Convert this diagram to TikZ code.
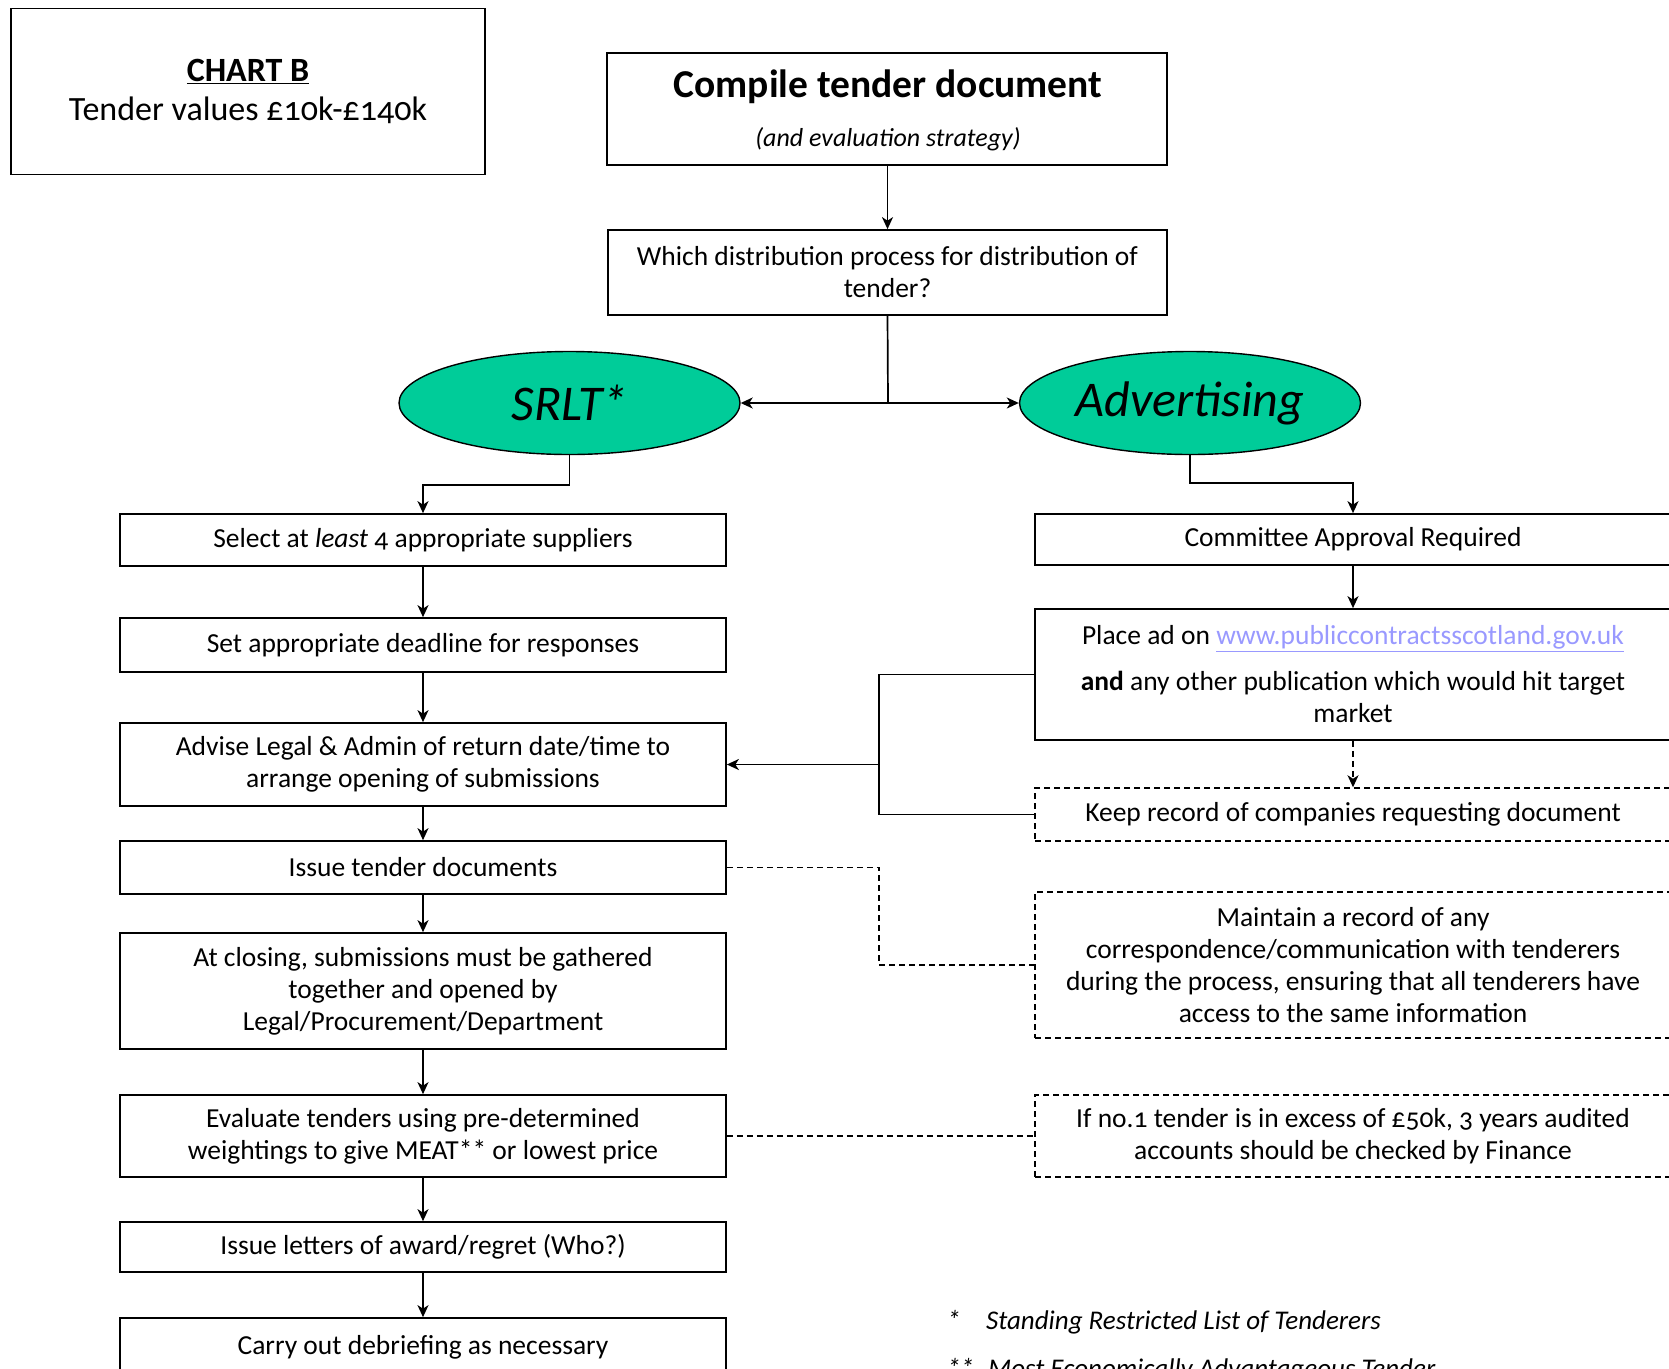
\documentclass[tikz,border=0pt]{standalone}
\usepackage{fontspec}
\setmainfont{Carlito}[Numbers=OldStyle]
\usetikzlibrary{arrows.meta,shapes.geometric}
\definecolor{tealfill}{HTML}{00CC99}
\definecolor{linkc}{HTML}{9999FF}
\begin{document}
\begin{tikzpicture}[x=1pt,y=-1pt,
  box/.style={draw, line width=1.7pt, inner sep=0pt, align=center, font=\fontsize{27.5}{32}\selectfont},
  dbox/.style={box, line width=1.5pt, dash pattern=on 6pt off 4pt},
  conn/.style={line width=1.7pt},
  dconn/.style={conn, line width=1.5pt, dash pattern=on 6pt off 4pt},
  arr/.style={conn, -{Stealth[length=12pt,width=11pt,inset=3.5pt]}},
  oval/.style={ellipse, draw, line width=1.4pt, fill=tealfill, minimum width=341pt, minimum height=103pt, inner sep=0pt, font=\fontsize{50}{60}\selectfont\itshape},
  lbox/.style={box, minimum width=606pt},
  rbox/.style={box, minimum width=636pt},
  rdbox/.style={dbox, minimum width=636pt},
  foot/.style={anchor=base west, inner sep=0pt, font=\fontsize{27}{32}\selectfont\itshape}]
\useasboundingbox (0,0) rectangle (1669,1368);
\begin{scope}
\clip (0,0) rectangle (1669,1368);
% header
\node[box, minimum width=474pt, minimum height=166pt, font=\fontsize{34}{39}\selectfont] (chart) at (248,91.5) {\textbf{\underline{CHART B}}\\Tender values £10k-£140k};
\node[box, minimum width=560pt, minimum height=112pt] (compile) at (887,109) {};
\node[inner sep=0pt, font=\fontsize{39.5}{44}\selectfont\bfseries] (compileA) at (888,87) {Compile tender document};
\node[inner sep=0pt, font=\fontsize{26}{30}\selectfont\itshape] (compileB) at (888,139) {(and evaluation strategy)};
\node[box, minimum width=559pt, minimum height=85pt] (which) at (887.5,272.5) {Which distribution process for distribution of\\tender?};
% ovals
\node[oval] (srlt) at (569.5,403) {SRLT*};
\node[oval] (adv) at (1190,403) {Advertising};
\coordinate (j) at (888,403);
% left column
\node[lbox, minimum height=52pt] (select) at (423,540) {Select at \textit{least} 4 appropriate suppliers};
\node[lbox, minimum height=54pt] (set) at (423,645) {Set appropriate deadline for responses};
\node[lbox, minimum height=83pt] (advise) at (423,764.5) {Advise Legal \& Admin of return date/time to\\arrange opening of submissions};
\node[lbox, minimum height=53pt] (issue) at (423,867.5) {Issue tender documents};
\node[lbox, minimum height=116pt] (closing) at (423,991) {At closing, submissions must be gathered\\together and opened by\\Legal/Procurement/Department};
\node[lbox, minimum height=82pt] (eval) at (423,1136) {Evaluate tenders using pre-determined\\weightings to give MEAT** or lowest price};
\node[lbox, minimum height=50pt] (letters) at (423,1247) {Issue letters of award/regret (Who?)};
\node[lbox, minimum height=58pt] (carry) at (423,1347) {Carry out debriefing as necessary};
% right column
\node[rbox, minimum height=51pt] (committee) at (1353,539.5) {Committee Approval Required};
\node[rbox, minimum height=131pt] (placead) at (1353,674.5) {Place ad on \textcolor{linkc}{\underline{www.publiccontractsscotland.gov.uk}}\\[14pt]\textbf{and} any other publication which would hit target\\market};
\node[rdbox, minimum height=53pt] (keep) at (1353,814.5) {Keep record of companies requesting document};
\node[rdbox, minimum height=146pt] (maintain) at (1353,965) {Maintain a record of any\\correspondence/communication with tenderers\\during the process, ensuring that all tenderers have\\access to the same information};
\node[rdbox, minimum height=82pt] (ifno) at (1353,1136) {If no.1 tender is in excess of £50k, 3 years audited\\accounts should be checked by Finance};
\coordinate (b) at (879,764.5);
% footnotes
\node[foot] (fn1) at (947,1329) {\makebox[39pt][l]{*}Standing Restricted List of Tenderers};
\node[foot] (fn2) at (947,1377) {\makebox[41pt][l]{**}Most Economically Advantageous Tender};
% connectors
\draw[arr] (compile.south -| which.north) -- (which.north);
\draw[conn] (which.south) -- (j);
\draw[arr] (j) -- (srlt.east);
\draw[arr] (j) -- (adv.west);
\draw[arr] (srlt.south) -- ++(0,30) -| (select.north);
\draw[arr] (adv.south) -- ++(0,28) -| (committee.north);
\draw[arr] (select) -- (set);
\draw[arr] (set) -- (advise);
\draw[arr] (advise) -- (issue);
\draw[arr] (issue) -- (closing);
\draw[arr] (closing) -- (eval);
\draw[arr] (eval) -- (letters);
\draw[arr] (letters) -- (carry);
\draw[arr] (committee) -- (placead);
\draw[arr, line width=1.5pt, dash pattern=on 6pt off 4pt] (placead) -- (keep);
\draw[conn] (placead.west) -- (placead.west -| b) -- (keep.west -| b) -- (keep.west);
\draw[arr] (b) -- (advise.east);
\draw[dconn] (issue.east) -- (issue.east -| b) -- (maintain.west -| b) -- (maintain.west);
\draw[dconn] (eval.east) -- (ifno.west);
\end{scope}
\end{tikzpicture}
\end{document}
